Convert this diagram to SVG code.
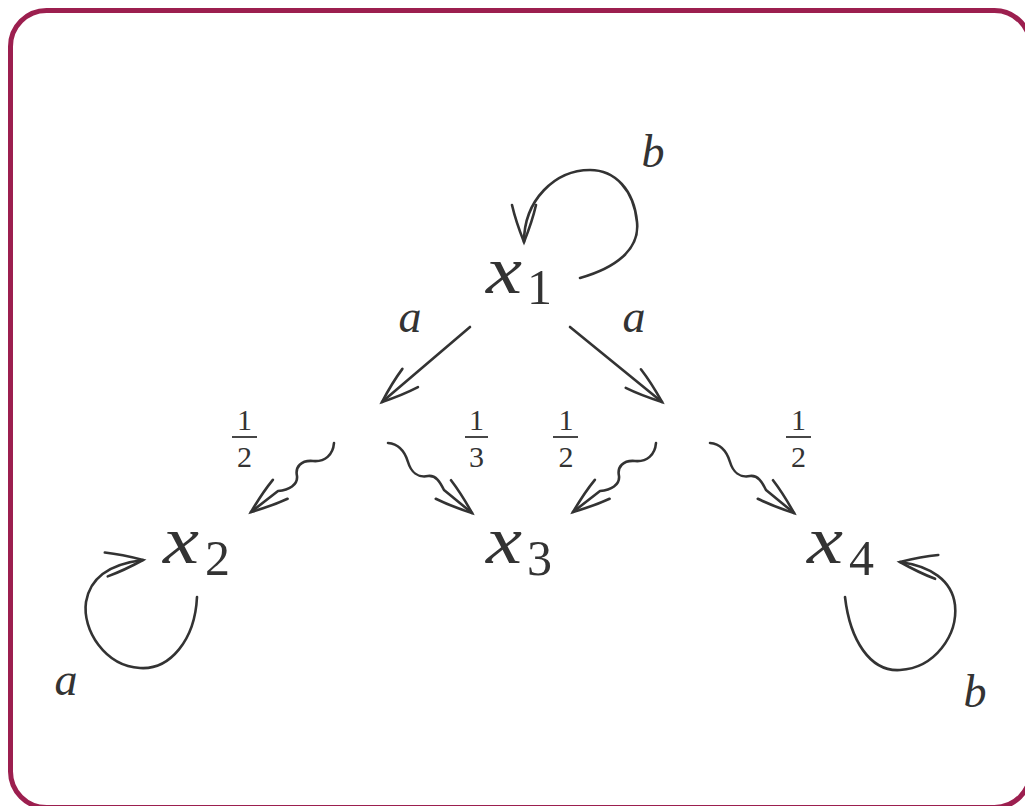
<svg xmlns="http://www.w3.org/2000/svg" width="1025" height="806" viewBox="0 0 1025 806">
  <style>
    .frame { fill: #ffffff; stroke: #9c1f4f; stroke-width: 5; }
    .edge { fill: none; stroke: #333333; stroke-width: 2.6; stroke-linecap: round; stroke-linejoin: round; }
    .var { font-family: "Liberation Serif", "DejaVu Serif", serif; font-style: italic; fill: #333333; }
    .num { font-family: "Liberation Serif", "DejaVu Serif", serif; fill: #333333; }
    .node-x { font-size: 68px; }
    .node-sub { font-size: 50px; }
    .lbl { font-size: 46px; }
    .frac { font-size: 30px; }
    .bar { stroke: #333333; stroke-width: 1.8; }
  </style>
  <defs>
    <marker id="to" markerUnits="userSpaceOnUse" markerWidth="60" markerHeight="40" viewBox="-40 -20 60 40" refX="0" refY="0" orient="auto" overflow="visible">
      <path d="M-37,-12 C-24,-9 -10,-4 0,0 C-10,4 -24,9 -37,12" fill="none" stroke="#333333" stroke-width="2.6" stroke-linecap="round"/>
    </marker>
  </defs>

  <rect class="frame" x="10.5" y="10.5" width="1020" height="797" rx="36" ry="36"/>

  <!-- connectors -->
  <g id="edges">
    <!-- b self-loop on x1 -->
    <path class="edge" marker-end="url(#to)" d="M580,278 C615,268 640,250 637,222 C634,190 615,170 590,170 C555,170 524,200 524,242"/>
    <!-- a transitions out of x1 -->
    <path class="edge" marker-end="url(#to)" d="M470,327 L382,402"/>
    <path class="edge" marker-end="url(#to)" d="M570,327 L662,402"/>
    <!-- probabilistic branches, left distribution -->
    <path class="edge" marker-end="url(#to)" d="M334,443 C333,455 325,462 313,461 C301,460 295,467 297,476 C298,485 289,490 278,491 L251,512"/>
    <path class="edge" marker-end="url(#to)" d="M388,443 C400,444 405,452 408,462 C411,472 418,478 428,476 C436,475 440,482 444,490 L472,513"/>
    <!-- probabilistic branches, right distribution -->
    <path class="edge" marker-end="url(#to)" d="M656,443 C655,455 647,462 635,461 C623,460 617,467 619,476 C620,485 611,490 600,491 L573,512"/>
    <path class="edge" marker-end="url(#to)" d="M710,443 C722,444 727,452 730,462 C733,472 740,478 750,476 C758,475 762,482 766,490 L794,513"/>
    <!-- a self-loop on x2 -->
    <path class="edge" marker-end="url(#to)" d="M197,597 C195,640 170,670 140,668 C105,666 82,630 86,602 C90,578 110,564 143,560"/>
    <!-- b self-loop on x4 -->
    <path class="edge" marker-end="url(#to)" d="M845,597 C850,640 870,672 900,670 C935,668 958,635 955,605 C952,580 930,566 900,562"/>
  </g>

  <!-- edge labels -->
  <g id="labels">
    <text class="var lbl" x="410" y="332" text-anchor="middle">a</text>
    <text class="var lbl" x="634" y="332" text-anchor="middle">a</text>
    <text class="var lbl" x="653" y="167" text-anchor="middle">b</text>
    <text class="var lbl" x="66" y="695" text-anchor="middle">a</text>
    <text class="var lbl" x="975" y="707" text-anchor="middle">b</text>

    <g id="p-x2">
      <text class="num frac" x="244.5" y="430" text-anchor="middle">1</text>
      <line class="bar" x1="232" y1="437" x2="257" y2="437"/>
      <text class="num frac" x="244.5" y="467" text-anchor="middle">2</text>
    </g>
    <g id="p-x3a">
      <text class="num frac" x="476.5" y="430" text-anchor="middle">1</text>
      <line class="bar" x1="465" y1="437" x2="488" y2="437"/>
      <text class="num frac" x="476.5" y="467" text-anchor="middle">3</text>
    </g>
    <g id="p-x3b">
      <text class="num frac" x="566" y="430" text-anchor="middle">1</text>
      <line class="bar" x1="553" y1="437" x2="578" y2="437"/>
      <text class="num frac" x="566" y="467" text-anchor="middle">2</text>
    </g>
    <g id="p-x4">
      <text class="num frac" x="798.5" y="430" text-anchor="middle">1</text>
      <line class="bar" x1="786" y1="437" x2="811" y2="437"/>
      <text class="num frac" x="798.5" y="467" text-anchor="middle">2</text>
    </g>
  </g>

  <!-- states -->
  <g id="x1">
    <text class="var node-x" x="486" y="293" textLength="36" lengthAdjust="spacingAndGlyphs">x</text>
    <text class="num node-sub" x="527" y="304">1</text>
  </g>
  <g id="x2">
    <text class="var node-x" x="163" y="563" textLength="36" lengthAdjust="spacingAndGlyphs">x</text>
    <text class="num node-sub" x="205" y="575">2</text>
  </g>
  <g id="x3">
    <text class="var node-x" x="486" y="563" textLength="36" lengthAdjust="spacingAndGlyphs">x</text>
    <text class="num node-sub" x="527" y="575">3</text>
  </g>
  <g id="x4">
    <text class="var node-x" x="807" y="563" textLength="36" lengthAdjust="spacingAndGlyphs">x</text>
    <text class="num node-sub" x="849" y="575">4</text>
  </g>
</svg>
